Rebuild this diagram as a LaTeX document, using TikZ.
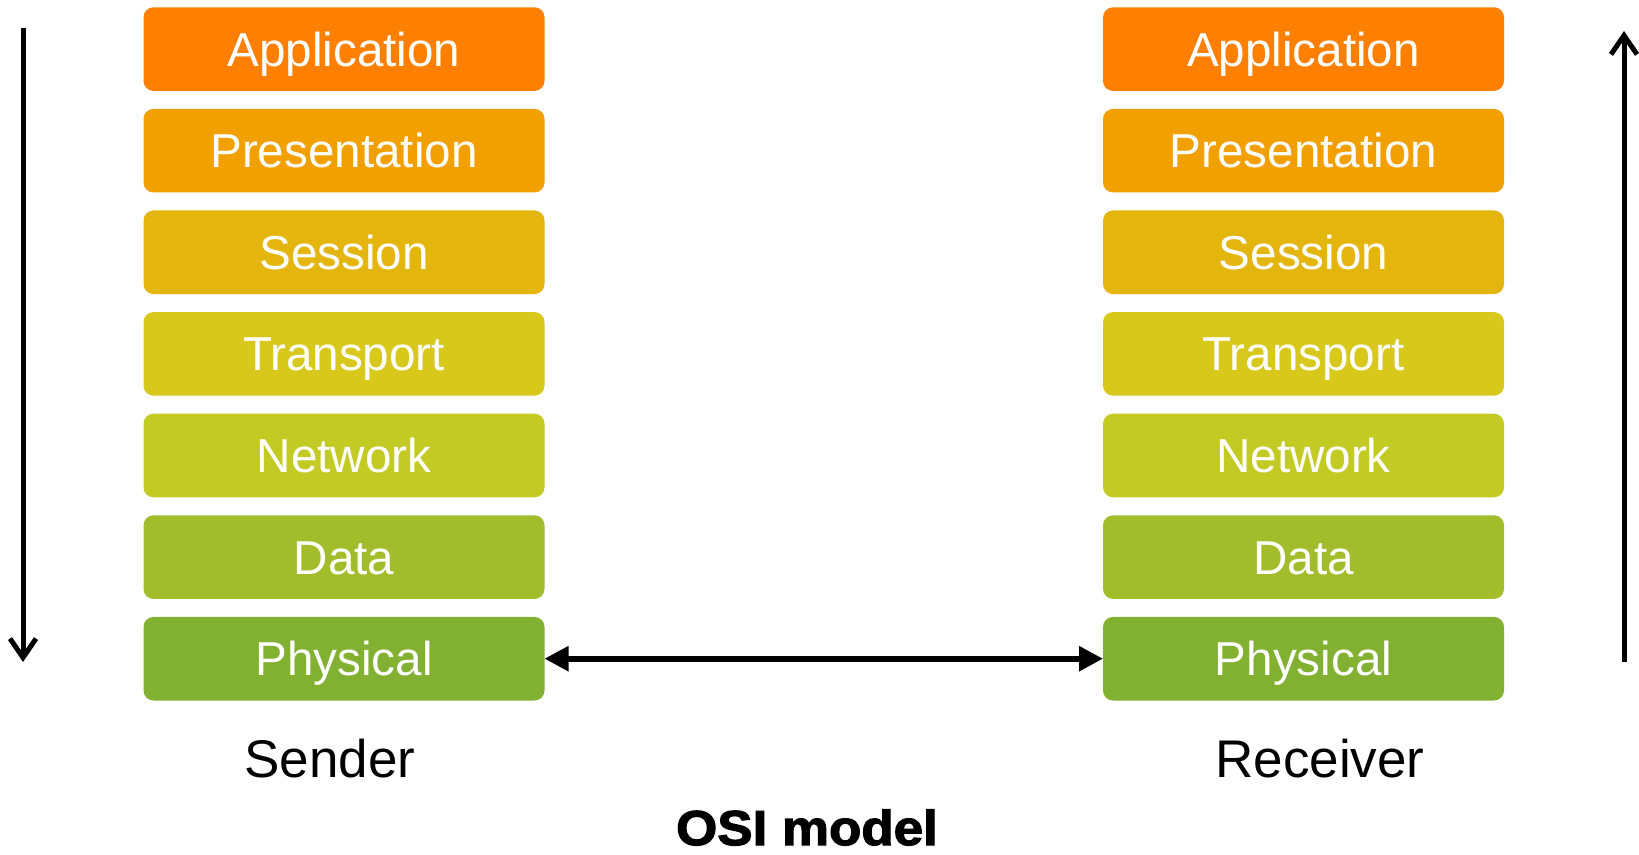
\documentclass[tikz,border=0pt]{standalone}
\usepackage{fontspec}
\setmainfont{Liberation Sans}
\newfontfamily\heavyfont[FakeBold=2.5,FakeStretch=1.08]{Liberation Sans Bold}
\usetikzlibrary{arrows.meta,positioning}
\definecolor{appcol}{HTML}{FF7F00}
\definecolor{prescol}{HTML}{F2A000}
\definecolor{sesscol}{HTML}{E4B60D}
\definecolor{transcol}{HTML}{D8C81C}
\definecolor{netcol}{HTML}{C3CA24}
\definecolor{datacol}{HTML}{A1BD2B}
\definecolor{phycol}{HTML}{82B031}
\tikzset{
    %Define style for layer boxes
    layer/.style={
           rectangle,
           rounded corners=5pt,
           draw=none,
           text=white,
           minimum width=200.5pt,
           minimum height=41.8pt,
           inner sep=0pt,
           outer sep=0pt,
           text height=17pt,
           text depth=0pt,
           font=\fontsize{23.8pt}{28pt}\selectfont},
    % Define style for side labels
    side/.style={
           anchor=base,
           font=\fontsize{26.5pt}{32pt}\selectfont},
    % Define arrow styles
    flow/.style={
           -{Straight Barb[length=9.5pt,width=13pt]},
           line width=2.5pt},
    link/.style={
           {Triangle[length=12pt,width=12pt]}-{Triangle[length=12pt,width=12pt]},
           line width=2.8pt}
}
\begin{document}
\begin{tikzpicture}[x=0.5pt,y=-0.5pt,node distance=9pt]
 \useasboundingbox (0,0) rectangle (1639,855);
 %sender nodes
    \node[layer, fill=appcol] (sapp) at (344,49.1) {Application};
    \node[layer, fill=prescol, below=of sapp] (spres) {Presentation};
    \node[layer, fill=sesscol, below=of spres] (ssess) {Session};
    \node[layer, fill=transcol, below=of ssess] (strans) {Transport};
    \node[layer, fill=netcol, below=of strans] (snet) {Network};
    \node[layer, fill=datacol, below=of snet] (sdata) {Data};
    \node[layer, fill=phycol, below=of sdata] (sphy) {Physical};
 %receiver nodes
    \node[layer, fill=appcol] (rapp) at (1303.5,49.1) {Application};
    \node[layer, fill=prescol, below=of rapp] (rpres) {Presentation};
    \node[layer, fill=sesscol, below=of rpres] (rsess) {Session};
    \node[layer, fill=transcol, below=of rsess] (rtrans) {Transport};
    \node[layer, fill=netcol, below=of rtrans] (rnet) {Network};
    \node[layer, fill=datacol, below=of rnet] (rdata) {Data};
    \node[layer, fill=phycol, below=of rdata] (rphy) {Physical};
 %labels
    \node[side] (sender) at (330,777) {Sender};
    \node[side] (receiver) at (1320,777) {Receiver};
    \node[anchor=base, font=\heavyfont\fontsize{24.5pt}{30pt}\selectfont] (title) at (807,845) {OSI model};
 %arrow ends
    \coordinate (stop) at (23,28);
    \coordinate (sbot) at (23,662);
    \coordinate (rbot) at (1624,662);
    \coordinate (rtop) at (1624,31);
 %edges
    \draw[flow] (stop) -- (sbot);
    \draw[flow] (rbot) -- (rtop);
    \draw[link] (sphy.east) -- (rphy.west);
\end{tikzpicture}
\end{document}
